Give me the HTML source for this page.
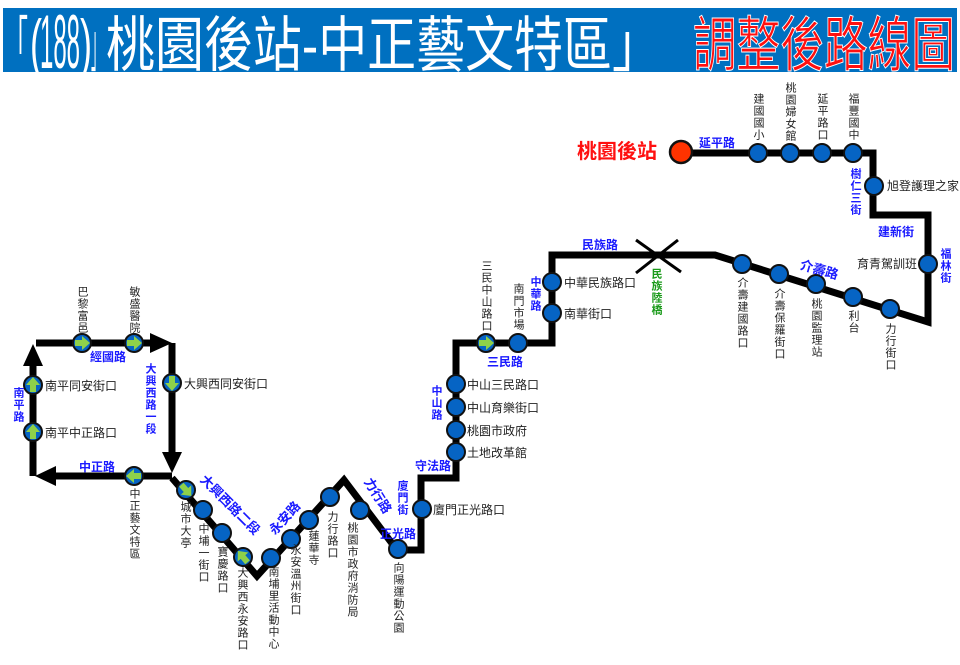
<!DOCTYPE html>
<html><head><meta charset="utf-8">
<style>
body{margin:0;width:960px;height:665px;background:#fff;position:relative;overflow:hidden;font-family:"Liberation Sans","Noto Sans CJK TC",sans-serif;}
.v{position:absolute;writing-mode:vertical-rl;text-orientation:upright;font-size:11px;letter-spacing:1px;line-height:12px;color:#222;white-space:nowrap;}
.h{position:absolute;font-size:12px;line-height:12px;color:#222;white-space:nowrap;}
.b{color:#1a1aff;font-weight:bold;}
svg{position:absolute;left:0;top:0;}
</style></head><body>
<svg width="960" height="665" viewBox="0 0 960 665">
<rect x="3" y="8" width="954" height="64" fill="#0070c0"/>
<g font-family="'Liberation Sans','Noto Sans CJK TC',sans-serif" font-size="60" fill="#fff">
<text x="4" y="66" textLength="24" lengthAdjust="spacingAndGlyphs">「</text>
<text x="30" y="66" textLength="12" lengthAdjust="spacingAndGlyphs" font-size="66">(</text>
<text x="40" y="68" textLength="40" lengthAdjust="spacingAndGlyphs" font-size="76">188</text>
<text x="80" y="66" textLength="12" lengthAdjust="spacingAndGlyphs" font-size="66">)</text>
<text x="91" y="66" textLength="13" lengthAdjust="spacingAndGlyphs">」</text>
<text x="106" y="66" textLength="555" lengthAdjust="spacingAndGlyphs">桃園後站-中正藝文特區」</text>
<text x="693" y="66" textLength="262" lengthAdjust="spacingAndGlyphs" fill="#ff1010" stroke="#fff" stroke-width="1">調整後路線圖</text>
</g>
<g fill="none" stroke="#000" stroke-width="7" stroke-linejoin="miter">
<polyline points="681,153 873,153 873,215 928,215 928,322 715,255 552,255 552,343 456,343 456,478 421,478 421,550 397,550 344,480 257,576 172,478"/>
<line x1="36" y1="343" x2="156" y2="343"/>
<line x1="33" y1="362" x2="33" y2="476"/>
<line x1="52" y1="476" x2="172" y2="476"/>
<line x1="172" y1="343" x2="172" y2="456"/>
</g>
<g fill="#000">
<polygon points="150,333 172,343 150,353"/>
<polygon points="56,466 35,476 56,486"/>
<polygon points="23,366 33,344 43,366"/>
<polygon points="162,452 172,473 182,452"/>
</g>
<g stroke="#000" stroke-width="3">
<line x1="636" y1="240" x2="681" y2="272"/>
<line x1="678" y1="240" x2="636" y2="273"/>
</g>
<circle cx="681" cy="152" r="11" fill="#ff3300" stroke="#111" stroke-width="2.5"/>
<g fill="#0664c4" stroke="#111" stroke-width="2">
<circle cx="758" cy="153" r="9"/><circle cx="790" cy="153" r="9"/><circle cx="822" cy="153" r="9"/><circle cx="853" cy="153" r="9"/>
<circle cx="874" cy="186" r="9"/><circle cx="928" cy="264" r="9"/>
<circle cx="742" cy="264" r="9"/><circle cx="779" cy="274" r="9"/><circle cx="816" cy="284" r="9"/><circle cx="853" cy="297" r="9"/><circle cx="890" cy="309" r="9"/>
<circle cx="552" cy="282" r="9"/><circle cx="552" cy="313" r="9"/><circle cx="518" cy="343" r="9"/>
<circle cx="456" cy="384" r="9"/><circle cx="456" cy="407" r="9"/><circle cx="456" cy="430" r="9"/><circle cx="456" cy="452" r="9"/>
<circle cx="422" cy="509" r="9"/><circle cx="398" cy="549" r="9"/><circle cx="360" cy="510" r="9"/><circle cx="330" cy="497" r="9"/><circle cx="309" cy="520" r="9"/><circle cx="291" cy="539" r="9"/><circle cx="271" cy="558" r="9"/>
<circle cx="222" cy="533" r="9"/><circle cx="203" cy="510" r="9"/>
</g>
<defs><g id="ga"><circle r="9" fill="#0664c4" stroke="#111" stroke-width="2"/><polygon points="-7,-3 0,-3 0,-7 8,0 0,7 0,3 -7,3" fill="#8ed14a"/></g></defs>
<use href="#ga" transform="translate(486,343)"/>
<use href="#ga" transform="translate(82,343)"/>
<use href="#ga" transform="translate(134,343)"/>
<use href="#ga" transform="translate(172,383) rotate(90)"/>
<use href="#ga" transform="translate(134,476) rotate(180)"/>
<use href="#ga" transform="translate(33,432) rotate(-90)"/>
<use href="#ga" transform="translate(33,385) rotate(-90)"/>
<use href="#ga" transform="translate(186,490) rotate(48)"/>
<use href="#ga" transform="translate(243,557) rotate(-130)"/>
<g font-family="'Liberation Sans','Noto Sans CJK TC',sans-serif" font-size="13" font-weight="bold" fill="#1a1aff" text-anchor="middle">
<text transform="translate(818,274) rotate(16)">介壽路</text>
<text transform="translate(227,508) rotate(45)">大興西路二段</text>
<text transform="translate(288,521) rotate(-48)">永安路</text>
<text transform="translate(374,498) rotate(58)">力行路</text>
</g>
</svg>
<div class="h" style="left:577px;top:141px;font-size:20px;line-height:22px;color:#ff1010;font-weight:bold">桃園後站</div>
<div class="h b" style="left:699px;top:137px">延平路</div>
<div class="v" style="left:752px;top:93px">建國國小</div>
<div class="v" style="left:784px;top:82px">桃園婦女館</div>
<div class="v" style="left:816px;top:93px">延平路口</div>
<div class="v" style="left:847px;top:93px">福豐國中</div>
<div class="v b" style="left:849px;top:168px">樹仁三街</div>
<div class="h" style="left:887px;top:180px">旭登護理之家</div>
<div class="h b" style="left:878px;top:226px">建新街</div>
<div class="v b" style="left:939px;top:248px">福林街</div>
<div class="h" style="left:857px;top:258px">育青駕訓班</div>
<div class="v" style="left:736px;top:277px">介壽建國路口</div>
<div class="v" style="left:773px;top:288px">介壽保羅街口</div>
<div class="v" style="left:810px;top:298px">桃園監理站</div>
<div class="v" style="left:847px;top:310px">利台</div>
<div class="v" style="left:884px;top:323px">力行街口</div>
<div class="h b" style="left:582px;top:239px">民族路</div>
<div class="v b" style="left:650px;top:268px;color:#1a9a1a">民族陸橋</div>
<div class="v b" style="left:529px;top:276px">中華路</div>
<div class="h" style="left:564px;top:277px">中華民族路口</div>
<div class="h" style="left:564px;top:308px">南華街口</div>
<div class="v" style="left:480px;top:260px">三民中山路口</div>
<div class="v" style="left:512px;top:283px">南門市場</div>
<div class="h b" style="left:487px;top:356px">三民路</div>
<div class="v b" style="left:430px;top:385px">中山路</div>
<div class="h" style="left:467px;top:379px">中山三民路口</div>
<div class="h" style="left:467px;top:402px">中山育樂街口</div>
<div class="h" style="left:467px;top:425px">桃園市政府</div>
<div class="h" style="left:467px;top:447px">土地改革館</div>
<div class="h b" style="left:415px;top:460px">守法路</div>
<div class="v b" style="left:396px;top:480px">廈門街</div>
<div class="h" style="left:433px;top:504px">廈門正光路口</div>
<div class="h b" style="left:380px;top:528px">正光路</div>
<div class="v" style="left:392px;top:562px">向陽運動公園</div>
<div class="v" style="left:346px;top:522px">桃園市政府消防局</div>
<div class="v" style="left:326px;top:511px">力行路口</div>
<div class="v" style="left:307px;top:530px">蓮華寺</div>
<div class="v" style="left:289px;top:544px">永安溫州街口</div>
<div class="v" style="left:267px;top:566px">南埔里活動中心</div>
<div class="v" style="left:236px;top:567px">大興西永安路口</div>
<div class="v" style="left:216px;top:546px">寶慶路口</div>
<div class="v" style="left:197px;top:523px">中埔一街口</div>
<div class="v" style="left:179px;top:501px">城市大亭</div>
<div class="v" style="left:128px;top:488px">中正藝文特區</div>
<div class="h b" style="left:79px;top:461px">中正路</div>
<div class="v b" style="left:144px;top:363px">大興西路一段</div>
<div class="h" style="left:184px;top:378px">大興西同安街口</div>
<div class="h b" style="left:90px;top:351px">經國路</div>
<div class="v" style="left:76px;top:286px">巴黎富邑</div>
<div class="v" style="left:128px;top:286px">敏盛醫院</div>
<div class="v b" style="left:12px;top:387px">南平路</div>
<div class="h" style="left:45px;top:380px">南平同安街口</div>
<div class="h" style="left:45px;top:427px">南平中正路口</div>
</body></html>
